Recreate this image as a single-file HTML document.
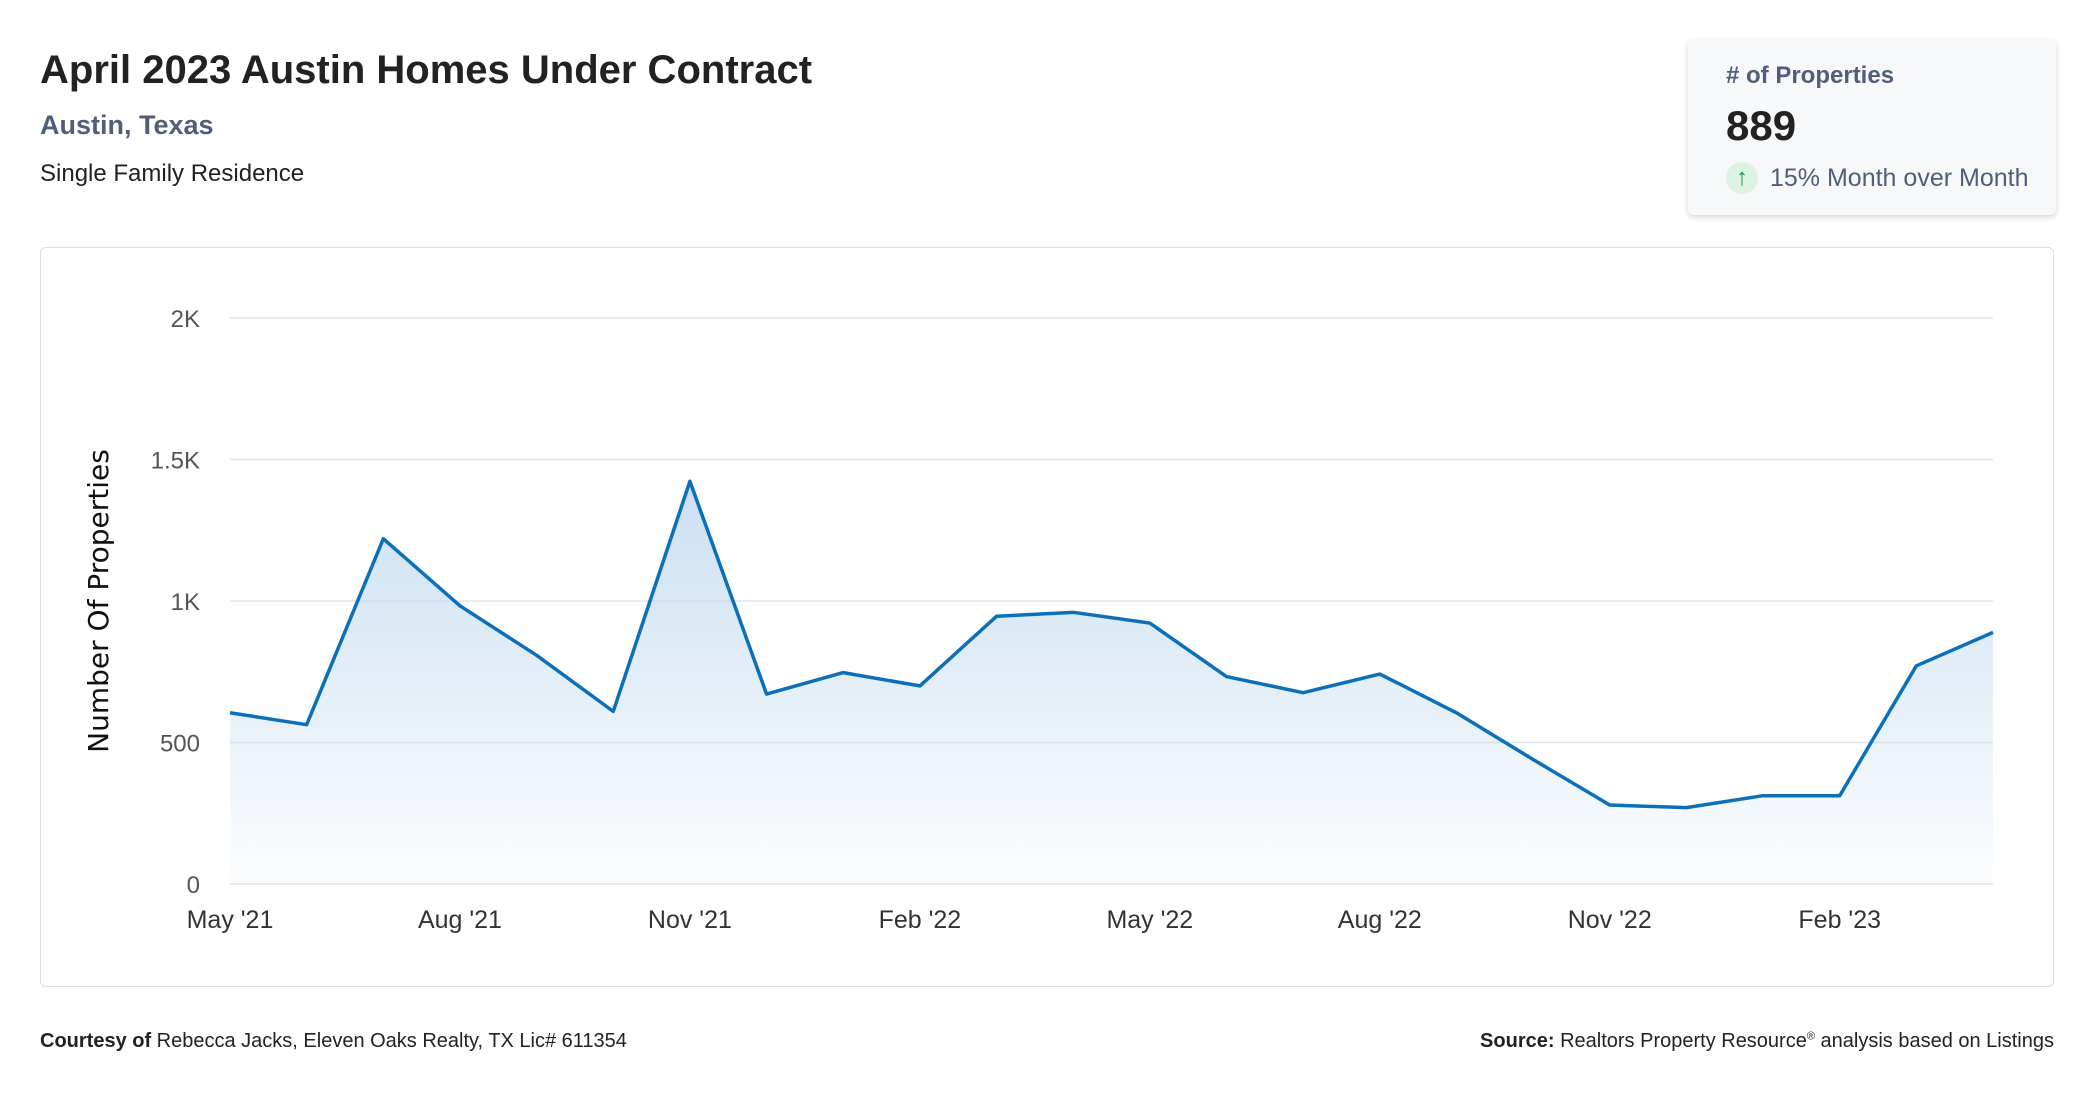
<!DOCTYPE html>
<html><head><meta charset="utf-8"><style>
body{margin:0;width:2096px;height:1100px;background:#fff;font-family:"Liberation Sans",sans-serif;position:relative;overflow:hidden}
.abs{position:absolute}
</style></head><body>
<div class="abs" style="left:40px;top:48px;font-size:40px;font-weight:bold;color:#222">April 2023 Austin Homes Under Contract</div>
<div class="abs" style="left:40px;top:110px;font-size:27px;font-weight:bold;color:#4f5f7a">Austin, Texas</div>
<div class="abs" style="left:40px;top:160px;font-size:24px;color:#222">Single Family Residence</div>
<div class="abs" style="left:1688px;top:40px;width:368px;height:175px;background:#f7f8fa;border-radius:6px;box-shadow:0 2px 6px rgba(0,0,0,0.18)">
 <div class="abs" style="left:38px;top:22px;font-size:24px;font-weight:bold;color:#4f5f7a"># of Properties</div>
 <div class="abs" style="left:38px;top:62px;font-size:42px;font-weight:bold;color:#222">889</div>
 <div class="abs" style="left:38px;top:122px;width:32px;height:32px;border-radius:16px;background:#dcf3e4;color:#1a9a4a;font-size:24px;text-align:center;line-height:32px;font-weight:bold">↑</div>
 <div class="abs" style="left:82px;top:124px;font-size:25px;color:#4f5f7a">15% Month over Month</div>
</div>
<div class="abs" style="left:40px;top:247px;width:2012px;height:738px;border:1.5px solid #d8dde3;border-radius:6px"></div>
<svg class="abs" style="left:0;top:0" width="2096" height="1100" id="chart">
<defs><linearGradient id="g" x1="0" y1="0" x2="0" y2="1"><stop offset="0" stop-color="#c6dcf0" stop-opacity="0.9"/><stop offset="1" stop-color="#c6dcf0" stop-opacity="0.05"/></linearGradient></defs>
</svg>
<div class="abs" style="left:40px;top:1030px;font-size:20px;color:#222"><b>Courtesy of</b> Rebecca Jacks, Eleven Oaks Realty, TX Lic# 611354</div>
<div class="abs" style="right:42px;top:1030px;font-size:20px;color:#222"><b>Source:</b> Realtors Property Resource<sup style="font-size:11px">®</sup> analysis based on Listings</div>
<script>
const months=["May '21","Jun '21","Jul '21","Aug '21","Sep '21","Oct '21","Nov '21","Dec '21","Jan '22","Feb '22","Mar '22","Apr '22","May '22","Jun '22","Jul '22","Aug '22","Sep '22","Oct '22","Nov '22","Dec '22","Jan '23","Feb '23","Mar '23","Apr '23"];
const values=[605,563,1220,983,808,610,1423,671,747,700,946,960,922,733,676,742,605,440,279,270,312,312,771,889];
const yTicks=[0,500,1000,1500,2000];
const yTickLabels=["0","500","1K","1.5K","2K"];
const xLabelIdx=[0,3,6,9,12,15,18,21];
const NS="http://www.w3.org/2000/svg";
const svg=document.getElementById('chart');
const X0=230,X1=1993,Y0=884,Y1=318;
const x=i=>X0+(X1-X0)*i/(months.length-1);
const y=v=>Y0-(Y0-Y1)*v/2000;
function mk(t,a){const e=document.createElementNS(NS,t);for(const k in a)e.setAttribute(k,a[k]);svg.appendChild(e);return e;}
yTicks.forEach((t,i)=>{
 const l=mk('line',{x1:X0,x2:X1,y1:y(t),y2:y(t),stroke:'#e2e5e9','stroke-width':1.5});
 
 
 const tx=mk('text',{x:200,y:y(t)+9,'text-anchor':'end','font-size':24,fill:'#555','font-family':'Liberation Sans, sans-serif'});
 tx.textContent=yTickLabels[i];
 
 
});
xLabelIdx.forEach(i=>{
 const tx=mk('text',{x:x(i),y:928,'text-anchor':'middle','font-size':25,fill:'#333','font-family':'Liberation Sans, sans-serif'});
 tx.textContent=months[i];
 
 
});
const yt=mk('text',{transform:'translate(108,601) rotate(-90)','text-anchor':'middle','font-size':28,fill:'#111','font-family':'DejaVu Sans, sans-serif'});
yt.textContent='Number Of Properties';


const pts=values.map((v,i)=>x(i)+','+y(v)).join(' ');
const area=mk('polygon',{points:x(0)+','+Y0+' '+pts+' '+x(values.length-1)+','+Y0,fill:'url(#g)'});


const line=mk('polyline',{points:pts,fill:'none',stroke:'#0b6fba','stroke-width':3.5,'stroke-linejoin':'round'});


</script>
</body></html>
